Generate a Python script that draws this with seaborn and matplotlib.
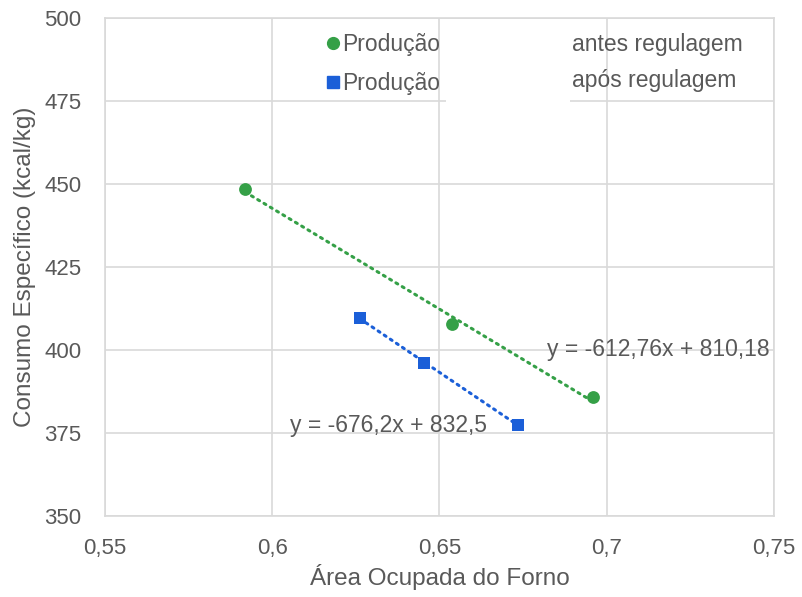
import numpy as np
import pandas as pd
import matplotlib
matplotlib.use("Agg")
import matplotlib.pyplot as plt
from matplotlib.patches import Rectangle
from matplotlib.lines import Line2D
import seaborn as sns

# ---- data ----
x_antes = [0.5919, 0.6537, 0.6959]
y_antes = [448.5, 407.8, 385.8]
x_apos = [0.6262, 0.6454, 0.6735]
y_apos = [409.6, 396.1, 377.4]
series_names = ["Produção", "Produção"]
series_suffix = ["antes regulagem", "após regulagem"]
eq_antes = "y = -612,76x + 810,18"
eq_apos = "y = -676,2x + 832,5"
x_ticks = [0.55, 0.6, 0.65, 0.7, 0.75]
y_ticks = [350, 375, 400, 425, 450, 475, 500]
x_label = "Área Ocupada do Forno"
y_label = "Consumo Específico (kcal/kg)"

GREEN = "#35a047"
BLUE = "#1b5fd8"
TXT = "#595959"
GRID = "#d9d9d9"

sns.set_theme(style="white")
plt.rcParams["font.family"] = ["Liberation Sans", "DejaVu Sans"]

W, H = 803, 597
L, R, T, B = 105, 774, 18, 516
fig = plt.figure(figsize=(W / 100, H / 100), dpi=100)
ax = fig.add_axes([L / W, 1 - B / H, (R - L) / W, (B - T) / H])

df_a = pd.DataFrame({"x": x_antes, "y": y_antes})
df_b = pd.DataFrame({"x": x_apos, "y": y_apos})

dot = (0, (0.7, 1.7))
sns.regplot(data=df_a, x="x", y="y", ax=ax, ci=None, scatter=False, truncate=True,
            line_kws=dict(color=GREEN, lw=2.2, ls=dot, dash_capstyle="round", zorder=2))
sns.regplot(data=df_b, x="x", y="y", ax=ax, ci=None, scatter=False, truncate=True,
            line_kws=dict(color=BLUE, lw=2.2, ls=dot, dash_capstyle="round", zorder=2))
sns.scatterplot(data=df_a, x="x", y="y", ax=ax, marker="o", s=85, color=GREEN,
                edgecolor=GREEN, linewidth=0, zorder=3)
sns.scatterplot(data=df_b, x="x", y="y", ax=ax, marker="s", s=75, color=BLUE,
                edgecolor=BLUE, linewidth=0, zorder=3)

ax.set_xlim(x_ticks[0], x_ticks[-1])
ax.set_ylim(y_ticks[0], y_ticks[-1])
ax.set_xticks(x_ticks)
ax.set_yticks(y_ticks)
ax.set_xticklabels([f"{v:g}".replace(".", ",") for v in x_ticks])
ax.set_yticklabels([f"{v:g}" for v in y_ticks])
ax.tick_params(axis="both", length=0, labelsize=16, labelcolor=TXT)
ax.tick_params(axis="x", pad=16)
ax.tick_params(axis="y", pad=17)
ax.grid(True, color=GRID, lw=1.2, zorder=0)
ax.set_axisbelow(True)
for s in ax.spines.values():
    s.set_color(GRID)
    s.set_linewidth(1.2)

ax.set_xlabel(x_label, fontsize=17.5, color=TXT)
ax.set_ylabel(y_label, fontsize=17.5, color=TXT)
ax.xaxis.set_label_coords(0.5, -(577 - B) / (B - T))
ax.xaxis.label.set_verticalalignment("center")
ax.yaxis.set_label_coords(-(L - 25) / (R - L), 0.5)
ax.yaxis.label.set_verticalalignment("center")

# white patch in legend area (as in the original)
fig.patches.append(Rectangle((446 / W, 1 - 103 / H), (570 - 446) / W, (103 - 22) / H,
                             transform=fig.transFigure, facecolor="white", edgecolor="none",
                             zorder=5))

handles = [
    Line2D([], [], marker="o", color=GREEN, ls="none", markersize=8.5),
    Line2D([], [], marker="s", color=BLUE, ls="none", markersize=8),
]
leg = fig.legend(handles, series_names, loc="upper left", bbox_to_anchor=(326 / W, 1 - 33 / H),
                 frameon=False, fontsize=16.5, handlelength=0.6, handletextpad=0.1,
                 labelspacing=0.68, borderpad=0, borderaxespad=0)
for t in leg.get_texts():
    t.set_color(TXT)
leg.set_zorder(6)
for i, suf in enumerate(series_suffix):
    fig.text(572 / W, 1 - (44 + 36 * i) / H, suf, fontsize=16.5, color=TXT,
             ha="left", va="center", zorder=6)

ax.text(0.6821, 400.3, eq_antes, fontsize=16.5, color=TXT, ha="left", va="center", zorder=4)
ax.text(0.6053, 377.4, eq_apos, fontsize=16.5, color=TXT, ha="left", va="center", zorder=4)

fig.savefig("out.png", dpi=100, facecolor="white")
